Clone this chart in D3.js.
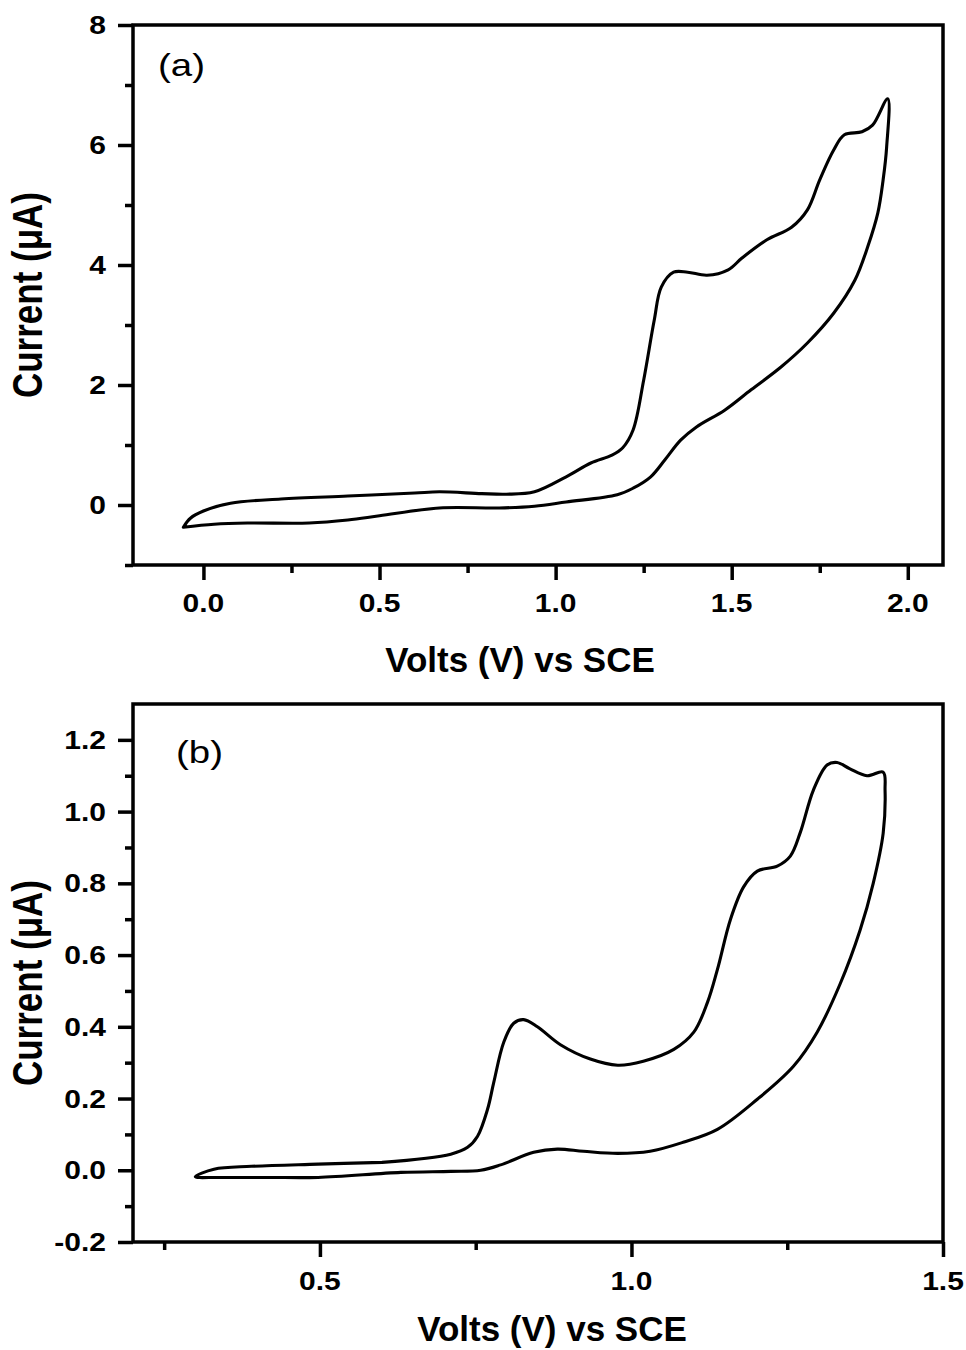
<!DOCTYPE html>
<html>
<head>
<meta charset="utf-8">
<script src="https://cdn.jsdelivr.net/npm/d3@7"></script>
<style>
  html, body { margin: 0; padding: 0; background: #fff; }
  svg { display: block; }
  text { font-family: "Liberation Sans", Arial, Helvetica, sans-serif; fill: #000; }
</style>
</head>
<body>
<svg id="chart" width="966" height="1350"></svg>
<script>
// ---------- Panel (a) data ----------
const aVolts = [-0.057,-0.037,0,0.077,0.22,0.41,0.60,0.67,0.79,0.86,0.94,1.03,1.10,1.16,1.19,1.22,1.25,1.28,1.30,1.335,1.375,1.43,1.49,1.53,1.60,1.67,1.715,1.75,1.79,1.82,1.87,1.90,1.943,
  1.94,1.93,1.915,1.886,1.85,1.79,1.715,1.64,1.555,1.48,1.40,1.355,1.31,1.27,1.22,1.175,1.03,0.94,0.84,0.67,0.50,0.41,0.30,0.125,0.03,-0.057];
const aCurrent = [-0.37,-0.22,-0.10,0.03,0.10,0.15,0.20,0.22,0.19,0.18,0.22,0.47,0.70,0.83,0.95,1.25,2.08,3.08,3.63,3.88,3.88,3.83,3.92,4.12,4.42,4.63,4.92,5.42,5.92,6.17,6.22,6.33,6.77,
  5.97,5.42,4.87,4.30,3.75,3.20,2.70,2.30,1.92,1.58,1.30,1.08,0.75,0.47,0.28,0.17,0.05,-0.02,-0.05,-0.05,-0.18,-0.25,-0.30,-0.30,-0.32,-0.37];

// ---------- Panel (b) data ----------
const bVolts = [0.60,0.71,0.737,0.753,0.769,0.779,0.795,0.811,0.827,0.849,0.886,0.934,0.978,1.019,1.068,1.10,1.122,1.138,1.159,1.18,1.202,1.234,1.255,1.271,1.292,1.314,1.33,1.35,1.378,1.404,
  1.407,1.404,1.388,1.367,1.335,1.298,1.26,1.202,1.138,1.083,1.03,0.978,0.923,0.881,0.843,0.79,0.758,0.71,0.63,0.497,0.417,0.337,0.300,
  0.33,0.39,0.497,0.60];
const bCurrent = [0.022,0.045,0.064,0.095,0.17,0.245,0.357,0.41,0.42,0.40,0.35,0.31,0.293,0.304,0.337,0.385,0.468,0.56,0.70,0.79,0.834,0.848,0.876,0.942,1.06,1.13,1.137,1.12,1.10,1.11,
  1.06,0.94,0.80,0.67,0.52,0.385,0.29,0.198,0.114,0.078,0.053,0.047,0.053,0.059,0.05,0.015,0.0,-0.003,-0.006,-0.02,-0.02,-0.02,-0.018,
  0.003,0.011,0.017,0.022];

// ---------- Ticks ----------
const aXMajor = [0, 0.5, 1.0, 1.5, 2.0];
const aXMinor = [0.25, 0.75, 1.25, 1.75];
const aXLabels = ["0.0", "0.5", "1.0", "1.5", "2.0"];
const aYMajor = [0, 2, 4, 6, 8];
const aYMinor = [-1, 1, 3, 5, 7];
const aYLabels = ["0", "2", "4", "6", "8"];

const bXMajor = [0.5, 1.0, 1.5];
const bXMinor = [0.25, 0.75, 1.25];
const bXLabels = ["0.5", "1.0", "1.5"];
const bYMajor = [-0.2, 0.0, 0.2, 0.4, 0.6, 0.8, 1.0, 1.2];
const bYMinor = [-0.1, 0.1, 0.3, 0.5, 0.7, 0.9, 1.1];
const bYLabels = ["-0.2", "0.0", "0.2", "0.4", "0.6", "0.8", "1.0", "1.2"];

const xTitle = "Volts (V) vs SCE";
const yTitle = "Current (\u03bcA)";

// ---------- Drawing ----------
const svg = d3.select("#chart");
const STRETCH = 1.2;

const panels = [
  { volts: aVolts, cur: aCurrent, xDom: [-0.2, 2.1], yDom: [-1, 8], top: 25, bottom: 565,
    xMaj: aXMajor, xMin: aXMinor, xLab: aXLabels, yMaj: aYMajor, yMin: aYMinor, yLab: aYLabels,
    tag: "(a)", tagX: 158, tagY: 76, xTitleX: 520, xTitleY: 672, yTitleY: 295, xLabY: 612 },
  { volts: bVolts, cur: bCurrent, xDom: [0.2, 1.5], yDom: [-0.2, 1.3], top: 704, bottom: 1242,
    xMaj: bXMajor, xMin: bXMinor, xLab: bXLabels, yMaj: bYMajor, yMin: bYMinor, yLab: bYLabels,
    tag: "(b)", tagX: 176, tagY: 763, xTitleX: 552, xTitleY: 1341, yTitleY: 983, xLabY: 1290 }
];

const left = 133, right = 943;

panels.forEach(p => {
  const x = d3.scaleLinear().domain(p.xDom).range([left, right]);
  const y = d3.scaleLinear().domain(p.yDom).range([p.bottom, p.top]);
  const g = svg.append("g");

  // Curve
  const pts = p.volts.map((v, i) => [v, p.cur[i]]);
  const line = d3.line().x(d => x(d[0])).y(d => y(d[1])).curve(d3.curveCatmullRom.alpha(0.5));
  g.append("path").datum(pts).attr("d", line)
    .attr("fill", "none").attr("stroke", "#000").attr("stroke-width", 3.1)
    .attr("stroke-linejoin", "round").attr("stroke-linecap", "round");

  // Axes ticks (major and minor)
  const styleAxis = sel => {
    sel.select(".domain").remove();
    sel.selectAll(".tick line").attr("stroke", "#000").attr("stroke-width", 3.5);
    sel.selectAll(".tick text").remove();
  };
  g.append("g").attr("transform", `translate(0,${p.bottom})`)
    .call(d3.axisBottom(x).tickValues(p.xMaj).tickSize(15).tickFormat("")).call(styleAxis);
  g.append("g").attr("transform", `translate(0,${p.bottom})`)
    .call(d3.axisBottom(x).tickValues(p.xMin).tickSize(8).tickFormat("")).call(styleAxis);
  g.append("g").attr("transform", `translate(${left},0)`)
    .call(d3.axisLeft(y).tickValues(p.yMaj).tickSize(15).tickFormat("")).call(styleAxis);
  g.append("g").attr("transform", `translate(${left},0)`)
    .call(d3.axisLeft(y).tickValues(p.yMin).tickSize(8).tickFormat("")).call(styleAxis);

  // Frame
  g.append("rect").attr("x", left).attr("y", p.top)
    .attr("width", right - left).attr("height", p.bottom - p.top)
    .attr("fill", "none").attr("stroke", "#000").attr("stroke-width", 3.5);

  // Tick labels
  g.selectAll(".xl").data(p.xMaj).enter().append("text")
    .attr("transform", (d) => `translate(${x(d)},${p.xLabY}) scale(${STRETCH},1)`)
    .attr("text-anchor", "middle").attr("font-weight", "bold").attr("font-size", 25)
    .text((d, i) => p.xLab[i]);
  g.selectAll(".yl").data(p.yMaj).enter().append("text")
    .attr("transform", (d) => `translate(106,${y(d) + 9}) scale(${STRETCH},1)`)
    .attr("text-anchor", "end").attr("font-weight", "bold").attr("font-size", 25)
    .text((d, i) => p.yLab[i]);

  // Axis titles
  g.append("text").attr("x", p.xTitleX).attr("y", p.xTitleY)
    .attr("text-anchor", "middle").attr("font-weight", "bold").attr("font-size", 35)
    .text(xTitle);
  g.append("text")
    .attr("transform", `translate(42,${p.yTitleY}) scale(${STRETCH},1) rotate(-90)`)
    .attr("text-anchor", "middle").attr("font-weight", "bold").attr("font-size", 35)
    .text(yTitle);

  // Panel tag
  g.append("text")
    .attr("transform", `translate(${p.tagX},${p.tagY}) scale(${STRETCH},1)`)
    .attr("font-size", 32).text(p.tag);
});
</script>
</body>
</html>
